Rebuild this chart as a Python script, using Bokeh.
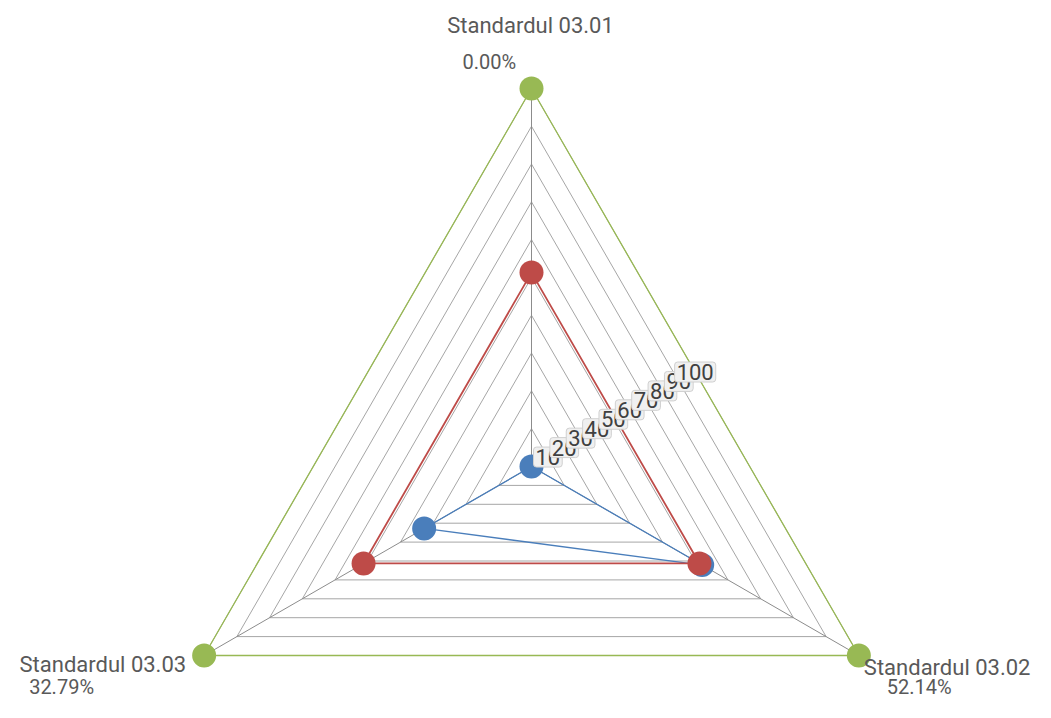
import numpy as np
from bokeh.plotting import figure
from bokeh.models import Range1d, ColumnDataSource
from bokeh.core.properties import value
from bokeh.embed import file_html
from bokeh.resources import INLINE

# ---- data ----
axes_names = ["Standardul 03.01", "Standardul 03.02", "Standardul 03.03"]
value_labels = ["0.00%", "52.14%", "32.79%"]
series_blue = [0.00, 52.14, 32.79]
series_red = [51.3, 51.3, 51.3]
series_green = [100, 100, 100]
grid_levels = [10, 20, 30, 40, 50, 60, 70, 80, 90, 100]
tick_labels = ["10", "20", "30", "40", "50", "60", "70", "80", "90", "100"]

# ---- layout ----
W, H = 1035, 702
SCALE = 3.78          # pixels per value unit
CX, CY = 531, 466     # centre in frame pixels (from top-left)

FONT = "Roboto"

p = figure(width=W, height=H, output_backend="svg", toolbar_location=None,
           x_range=Range1d(-CX / SCALE, (W - CX) / SCALE),
           y_range=Range1d(-(H - CY) / SCALE, CY / SCALE),
           min_border=0)
p.axis.visible = False
p.grid.visible = False
p.outline_line_color = None
p.background_fill_color = "white"
p.border_fill_color = "white"

angles = np.radians([90, -30, 210])
ca, sa = np.cos(angles), np.sin(angles)


def poly(vals):
    v = np.asarray(vals, dtype=float)
    xs = list(v * ca) + [v[0] * ca[0]]
    ys = list(v * sa) + [v[0] * sa[0]]
    return xs, ys


# grid triangles
gx, gy = [], []
for lv in grid_levels:
    xs, ys = poly([lv] * 3)
    gx.append(xs)
    gy.append(ys)
p.multi_line(gx, gy, line_color="#A6A6A6", line_width=1)

# spokes
top = max(grid_levels)
p.multi_line([[0, top * c] for c in ca], [[0, top * s] for s in sa],
             line_color="#8C8C8C", line_width=1)

# series
for vals, col, lw in [(series_blue, "#4A7EBB", 1.3),
                      (series_red, "#BE4B48", 1.8),
                      (series_green, "#98B954", 1.3)]:
    xs, ys = poly(vals)
    p.line(xs, ys, line_color=col, line_width=lw)
    p.scatter(list(np.asarray(vals) * ca), list(np.asarray(vals) * sa),
              size=24, fill_color=col, line_color=None)

# tick labels at midpoints of right edge of each grid triangle
mx = (ca[0] + ca[1]) / 2
my = (sa[0] + sa[1]) / 2
tsrc = ColumnDataSource(dict(x=[lv * mx for lv in grid_levels],
                             y=[lv * my for lv in grid_levels],
                             t=tick_labels))
p.text(x="x", y="y", text="t", source=tsrc, text_font=value(FONT),
       text_font_size="22px", text_color="#404040", text_align="center",
       text_baseline="middle", background_fill_color="#F0F0F0",
       border_line_color="#D0D0D0", border_line_width=1,
       padding=2, border_radius=3)

# axis name labels, placed from vertex positions with pixel offsets
vx = [top * c for c in ca]
vy = [top * s for s in sa]
name_off = [(-1, 63, "center"), (5, -12, "left"), (-18, -9, "right")]
val_off = [(-69, 27, "left"), (28, -31, "left"), (-175, -31, "left")]

for i in range(3):
    dx, dy, al = name_off[i]
    p.text(x=[vx[i] + dx / SCALE], y=[vy[i] + dy / SCALE], text=[axes_names[i]],
           text_font=value(FONT), text_font_size="22px", text_color="#595959",
           text_align=al, text_baseline="middle")
    dx2, dy2, al2 = val_off[i]
    p.text(x=[vx[i] + dx2 / SCALE], y=[vy[i] + dy2 / SCALE], text=[value_labels[i]],
           text_font=value(FONT), text_font_size="20px", text_color="#595959",
           text_align=al2, text_baseline="middle")

open("out.html", "w").write(file_html(p, INLINE))
